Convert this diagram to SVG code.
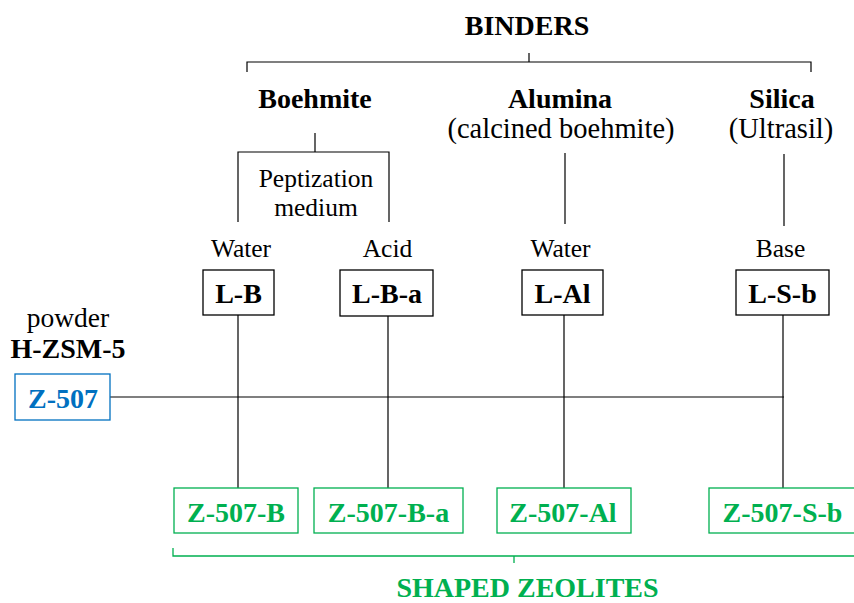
<svg xmlns="http://www.w3.org/2000/svg" width="854" height="603" viewBox="0 0 854 603">
<style>
text{font-family:"Liberation Serif","Times New Roman",serif;text-anchor:middle}
.b{font-weight:bold;font-size:28px;fill:#000}
.n{font-size:25.5px;fill:#000}
.s{font-size:28.5px;fill:#000}
.ln{stroke:#000;stroke-width:1.2;fill:none}
.box{fill:#fff;stroke:#000;stroke-width:1.3}
.bbox{fill:#fff;stroke:#0070C0;stroke-width:1.3}
.gbox{fill:#fff;stroke:#00B050;stroke-width:1.3}
.bt{font-weight:bold;font-size:28px;fill:#0070C0}
.gt{font-weight:bold;font-size:28px;fill:#00B050}
.gl{stroke:#00B050;stroke-width:1.3;fill:none}
</style>
<g id="connectors">
<path class="ln" d="M247,72 V62 H811 V72 M529,62 V53"/>
<path class="ln" d="M315,133 V152 M238,222 V152 H389 V222"/>
<path class="ln" d="M565,153 V224 M784,154 V226"/>
<path class="ln" d="M110,397 H784"/>
<path class="ln" d="M238,315 V488 M388,316 V488 M564,315 V488 M783,315 V488"/>
<path class="gl" d="M173,548 V556 H854 M514,556 V563"/>
</g>
<g id="binders"><text class="b" x="527" y="35">BINDERS</text></g>
<g id="boehmite"><text class="b" x="315" y="108">Boehmite</text></g>
<g id="alumina"><text class="b" x="560" y="108">Alumina</text><text class="s" x="561" y="138">(calcined boehmite)</text></g>
<g id="silica"><text class="b" x="782" y="108">Silica</text><text class="s" x="781" y="138">(Ultrasil)</text></g>
<g id="peptization"><text class="n" x="316" y="187">Peptization</text><text class="n" x="316" y="216">medium</text></g>
<g id="water1"><text class="n" x="241" y="257">Water</text></g>
<g id="acid"><text class="n" x="387.5" y="257">Acid</text></g>
<g id="water2"><text class="n" x="560.5" y="257">Water</text></g>
<g id="base"><text class="n" x="780.5" y="257">Base</text></g>
<g id="LB"><rect class="box" x="203" y="270" width="71" height="45"/><text class="b" x="238.5" y="303">L-B</text></g>
<g id="LBa"><rect class="box" x="340" y="270" width="93" height="46"/><text class="b" x="387" y="303">L-B-a</text></g>
<g id="LAl"><rect class="box" x="522" y="270" width="81" height="45"/><text class="b" x="562.5" y="303">L-Al</text></g>
<g id="LSb"><rect class="box" x="736" y="270" width="93" height="45"/><text class="b" x="782.5" y="303">L-S-b</text></g>
<g id="hzsm"><text class="n" x="68" y="327" style="font-size:27.5px">powder</text><text class="b" x="68" y="358">H-ZSM-5</text></g>
<g id="Z507"><rect class="bbox" x="15" y="374" width="95" height="46"/><text class="bt" x="63" y="408">Z-507</text></g>
<g id="Z507B"><rect class="gbox" x="174" y="488" width="124" height="45"/><text class="gt" x="236" y="522">Z-507-B</text></g>
<g id="Z507Ba"><rect class="gbox" x="314" y="488" width="149" height="45"/><text class="gt" x="388.5" y="522">Z-507-B-a</text></g>
<g id="Z507Al"><rect class="gbox" x="497" y="488" width="134" height="45"/><text class="gt" x="563" y="522">Z-507-Al</text></g>
<g id="Z507Sb"><rect class="gbox" x="709" y="488" width="148" height="45"/><text class="gt" x="782.5" y="522">Z-507-S-b</text></g>
<g id="shaped"><text class="gt" x="527.5" y="597">SHAPED ZEOLITES</text></g>
</svg>
